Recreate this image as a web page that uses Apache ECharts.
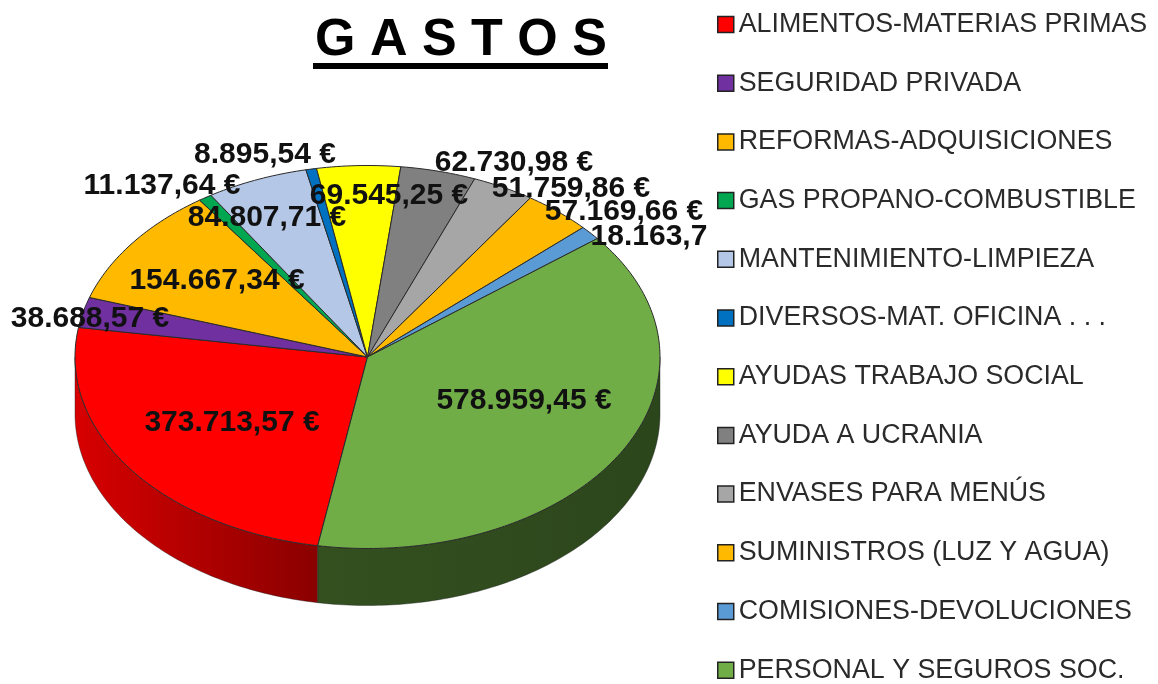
<!DOCTYPE html>
<html>
<head>
<meta charset="utf-8">
<style>html,body{margin:0;padding:0;background:#fff}#c{width:1158px;height:684px;filter:blur(0.5px)}</style>
<script src="https://cdn.jsdelivr.net/npm/echarts@6/dist/echarts.min.js"></script>
</head>
<body>
<div id="c"></div>
<script>
const categories = ['ALIMENTOS-MATERIAS PRIMAS','SEGURIDAD PRIVADA','REFORMAS-ADQUISICIONES','GAS PROPANO-COMBUSTIBLE','MANTENIMIENTO-LIMPIEZA','DIVERSOS-MAT. OFICINA . . .','AYUDAS TRABAJO SOCIAL','AYUDA A UCRANIA','ENVASES PARA MENÚS','SUMINISTROS (LUZ Y AGUA)','COMISIONES-DEVOLUCIONES','PERSONAL Y SEGUROS SOC.'];
const values = [373713.57,38688.57,154667.34,11137.64,84807.71,8895.54,69545.25,62730.98,51759.86,57169.66,18163.7,578959.45];
const valueLabels = ['373.713,57 €','38.688,57 €','154.667,34 €','11.137,64 €','84.807,71 €','8.895,54 €','69.545,25 €','62.730,98 €','51.759,86 €','57.169,66 €','18.163,7','578.959,45 €'];

// presentation only
const colors = ['#FF0000','#7030A0','#FFBA00','#00A650','#B4C7E7','#0070C0','#FFFF00','#808080','#A6A6A6','#FFBA00','#5B9BD5','#70AD47'];
const wallStops = {0:['#D80000','#8A0000'],11:['#2C461C','#34501F']};
const labelCenters = [[232,423],[90,319],[217,281],[162,186],[267,218],[265,155],[389,196],[514,163],[571,189],[624,212],[649,237],[524,401]];
const pie = {cx:367.5,cy:357,rx:292.5,ry:191.5,depth:57,startDeg:189.8};

const total = values.reduce((a,b)=>a+b,0);
const starts = [];
values.reduce((acc,v,i)=>{starts[i]=acc;return acc+v/total*360;},pie.startDeg);

function pt(deg,dy){
  const t=deg*Math.PI/180;
  return [pie.cx+pie.rx*Math.sin(t), pie.cy-pie.ry*Math.cos(t)+(dy||0)];
}
function arc(a,b,dy){
  const out=[],n=Math.max(2,Math.ceil(Math.abs(b-a)));
  for(let k=0;k<=n;k++) out.push(pt(a+(b-a)*k/n,dy));
  return out;
}
function wallRanges(a,b){
  const res=[];
  for(const off of [0,360,-360]){
    const s=Math.max(a,90+off),e=Math.min(b,270+off);
    if(e>s) res.push([s,e]);
  }
  return res;
}
function sliceItem(i,color){
  return function(params,api){
    const v=api.value(0);
    const a=starts[i],b=a+v/total*360;
    const children=[];
    wallRanges(a,b).forEach(r=>{
      const stops=wallStops[i]||[color,color];
      children.push({
        type:'polygon',
        shape:{points:arc(r[0],r[1],0).concat(arc(r[1],r[0],pie.depth))},
        style:{fill:{type:'linear',x:0,y:0,x2:1,y2:0,colorStops:[
          {offset:0,color:i===0?stops[0]:stops[1]},{offset:1,color:i===0?stops[1]:stops[0]}]},
          stroke:'#1c1c1c',lineWidth:0.4}
      });
    });
    children.push({
      type:'polygon',
      shape:{points:[[pie.cx,pie.cy]].concat(arc(a,b,0))},
      style:{fill:color,stroke:'#2a2a2a',lineWidth:1,lineJoin:'round'}
    });
    return {type:'group',children};
  };
}

const series = categories.map((name,i)=>({
  type:'custom',name,coordinateSystem:'none',silent:true,animation:false,
  itemStyle:{color:colors[i]},
  data:[[values[i]]],
  renderItem:sliceItem(i,colors[i])
}));
series.push({
  type:'custom',name:'importes',coordinateSystem:'none',silent:true,animation:false,z:10,
  data:valueLabels.map((t,i)=>[i]),
  renderItem(params,api){
    const i=api.value(0),p=labelCenters[i];
    return {type:'text',style:{x:p[0],y:p[1],text:valueLabels[i],align:'center',verticalAlign:'middle',
      fill:'#111',font:'bold 30px "Liberation Sans", Arial, sans-serif'}};
  }
});

const chart = echarts.init(document.getElementById('c'),null,{renderer:'canvas'});
chart.setOption({
  animation:false,
  backgroundColor:'#fff',
  tooltip:{show:false},
  title:{text:'G A S T O S',left:310,top:10,textStyle:{fontFamily:'"Liberation Sans", Arial, sans-serif',fontWeight:'bold',fontSize:52,color:'#000'}},
  graphic:[{type:'rect',shape:{x:313,y:63,width:295,height:6},style:{fill:'#000'}}],
  legend:{
    data:categories,orient:'vertical',left:717,top:11,padding:0,height:900,
    itemWidth:16,itemHeight:16,itemGap:31.7,icon:'rect',selectedMode:false,
    itemStyle:{borderColor:'#222',borderWidth:1.5},
    textStyle:{fontFamily:'"Liberation Sans", Arial, sans-serif',fontSize:26.8,color:'#2a2a2a'}
  },
  series
});
</script>
</body>
</html>
